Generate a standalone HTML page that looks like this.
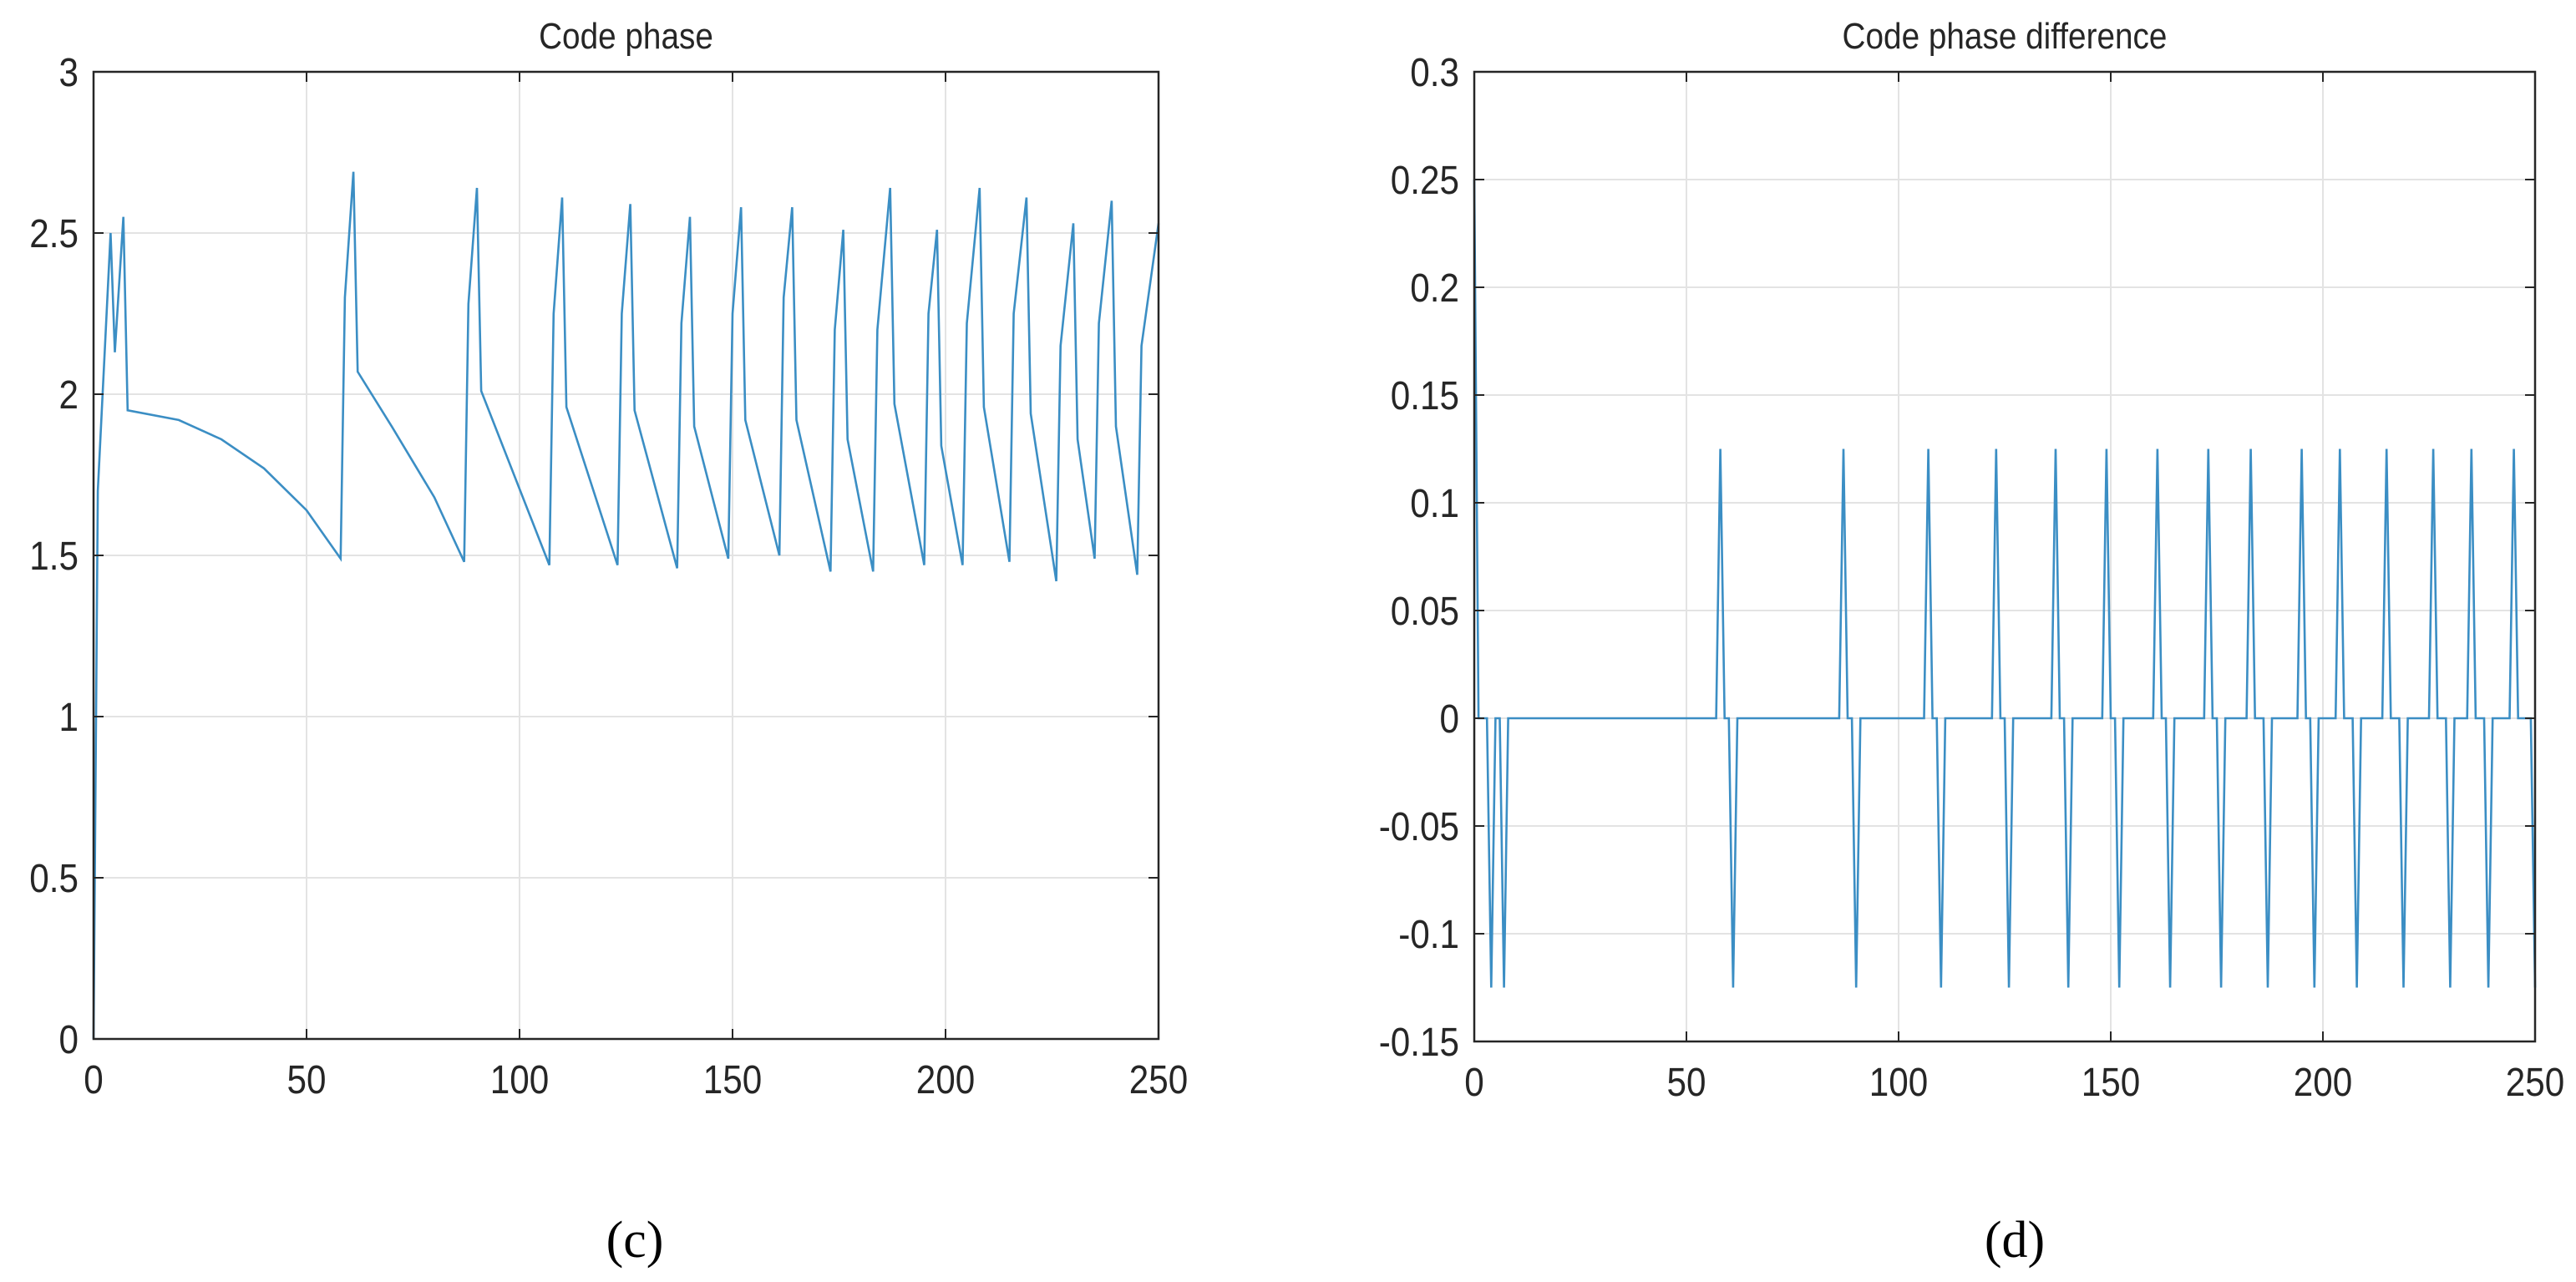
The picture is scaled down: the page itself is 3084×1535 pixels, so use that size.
<!DOCTYPE html>
<html><head><meta charset="utf-8"><style>
html,body{margin:0;padding:0;background:#fff;}
svg{display:block;}
text{font-family:"Liberation Sans",sans-serif;fill:#262626;}
.cap{font-family:"Liberation Serif",serif;fill:#000;}
</style></head><body>
<svg id="fig" width="3084" height="1535" viewBox="0 0 3084 1535" xmlns="http://www.w3.org/2000/svg">
<rect width="3084" height="1535" fill="#fff"/>
<g id="p1"></g>
<g id="p2"></g>
<text class="cap" x="760" y="1505" font-size="62" text-anchor="middle">(c)</text>
<text class="cap" x="2412" y="1505" font-size="62" text-anchor="middle">(d)</text>
</svg>
<script>
const xTicks = [0,50,100,150,200,250];
const y1Ticks = [0,0.5,1,1.5,2,2.5,3];
const y1Labels = ["0","0.5","1","1.5","2","2.5","3"];
const y2Ticks = [-0.15,-0.1,-0.05,0,0.05,0.1,0.15,0.2,0.25,0.3];
const y2Labels = ["-0.15","-0.1","-0.05","0","0.05","0.1","0.15","0.2","0.25","0.3"];
const phaseX = [0,1,4,5,7,8,20,30,40,50,58,59,61,62,70,80,87,88,90,91,107,108,110,111,123,124,126,127,137,138,140,141,149,150,152,153,161,162,164,165,173,174,176,177,183,184,187,188,195,196,198,199,204,205,208,209,215,216,219,220,226,227,230,231,235,236,239,240,245,246,250];
const phaseY = [0,1.7,2.5,2.13,2.55,1.95,1.92,1.86,1.77,1.64,1.49,2.3,2.69,2.07,1.9,1.68,1.48,2.28,2.64,2.01,1.47,2.25,2.61,1.96,1.47,2.25,2.59,1.95,1.46,2.22,2.55,1.9,1.49,2.25,2.58,1.92,1.5,2.3,2.58,1.92,1.45,2.2,2.51,1.86,1.45,2.2,2.64,1.97,1.47,2.25,2.51,1.84,1.47,2.22,2.64,1.96,1.48,2.25,2.61,1.94,1.42,2.15,2.53,1.86,1.49,2.22,2.6,1.9,1.44,2.15,2.53];
const diffStart = 0.25;
const diffPosX = [58,87,107,123,137,149,161,173,183,195,204,215,226,235,245];
const diffPosY = [0.125,0.125,0.125,0.125,0.125,0.125,0.125,0.125,0.125,0.125,0.125,0.125,0.125,0.125,0.125];
const diffNegX = [4,7,61,90,110,126,140,152,164,176,187,198,208,219,230,239,250];
const diffNegY = [-0.125,-0.125,-0.125,-0.125,-0.125,-0.125,-0.125,-0.125,-0.125,-0.125,-0.125,-0.125,-0.125,-0.125,-0.125,-0.125,-0.125];

const NS = "http://www.w3.org/2000/svg";
function mk(parent, tag, attrs, txt){
  const e = document.createElementNS(NS, tag);
  for (const k in attrs) e.setAttribute(k, attrs[k]);
  if (txt !== undefined) e.textContent = txt;
  parent.appendChild(e);
  return e;
}
function drawChart(g, L, R, T, B, ymin, ymax, yt, yl, title, xs, ys){
  const sx = v => L + (v - 0) / 250 * (R - L);
  const sy = v => B - (v - ymin) / (ymax - ymin) * (B - T);
  xTicks.forEach(t => {
    const l = mk(g, "line", {x1:sx(t), x2:sx(t), y1:T, y2:B, stroke:"#e3e3e3", "stroke-width":2});
    
    
  });
  yt.forEach(t => {
    const l = mk(g, "line", {x1:L, x2:R, y1:sy(t), y2:sy(t), stroke:"#e3e3e3", "stroke-width":2});
    
    
  });
  const pts = xs.map((x,i) => sx(x).toFixed(1) + "," + sy(ys[i]).toFixed(1)).join(" ");
  const pl = mk(g, "polyline", {points:pts, fill:"none", stroke:"#3b8ec4", "stroke-width":2.6, "stroke-linejoin":"miter"});
  
  
  const bx = mk(g, "rect", {x:L, y:T, width:R-L, height:B-T, fill:"none", stroke:"#262626", "stroke-width":2.5});
  
  
  xTicks.forEach(t => {
    mk(g, "line", {x1:sx(t), x2:sx(t), y1:B, y2:B-12, stroke:"#262626", "stroke-width":2});
    mk(g, "line", {x1:sx(t), x2:sx(t), y1:T, y2:T+12, stroke:"#262626", "stroke-width":2});
    const tx = mk(g, "text", {x:sx(t), y:B+65, "font-size":48, "text-anchor":"middle", transform:`translate(${sx(t)},0) scale(0.88,1) translate(${-sx(t)},0)`}, String(t));
    
    
  });
  yt.forEach((t,i) => {
    mk(g, "line", {x1:L, x2:L+12, y1:sy(t), y2:sy(t), stroke:"#262626", "stroke-width":2});
    mk(g, "line", {x1:R, x2:R-12, y1:sy(t), y2:sy(t), stroke:"#262626", "stroke-width":2});
    const ax = L - 18;
    const tx = mk(g, "text", {x:ax, y:sy(t)+17, "font-size":48, "text-anchor":"end", transform:`translate(${ax},0) scale(0.88,1) translate(${-ax},0)`}, yl[i]);
    
    
  });
  const cx = (L+R)/2;
  const tt = mk(g, "text", {x:cx, y:58, "font-size":44, "text-anchor":"middle", transform:`translate(${cx},0) scale(0.88,1) translate(${-cx},0)`}, title);
  
  
}
drawChart(document.getElementById("p1"), 112, 1387, 86, 1244, 0, 3, y1Ticks, y1Labels, "Code phase", phaseX, phaseY);

const spikes = {};
diffPosX.forEach((x,i) => spikes[x] = diffPosY[i]);
diffNegX.forEach((x,i) => spikes[x] = diffNegY[i]);
spikes[0] = diffStart;
const dX = [], dY = [];
for (let x = 0; x <= 250; x++) { dX.push(x); dY.push(spikes[x] !== undefined ? spikes[x] : 0); }
drawChart(document.getElementById("p2"), 1765, 3035, 86, 1247, -0.15, 0.3, y2Ticks, y2Labels, "Code phase difference", dX, dY);
</script>
</body></html>
